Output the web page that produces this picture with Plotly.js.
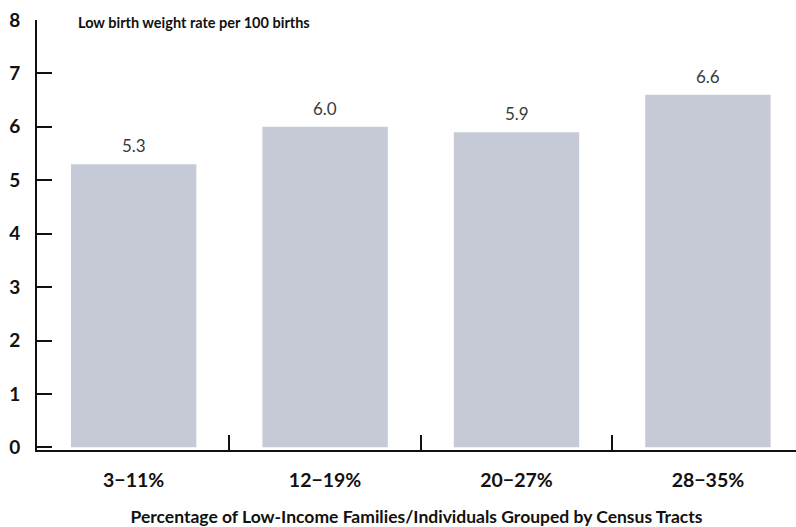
<!DOCTYPE html>
<html>
<head>
<meta charset="utf-8">
<script src="https://cdn.plot.ly/plotly-3.0.1.min.js"></script>
<style>html,body{margin:0;padding:0;background:#fff;}#chart{width:796px;height:527px;}</style>
</head>
<body>
<div id="chart"></div>
<script>
const categories = ["3\u221211%", "12\u221219%", "20\u221227%", "28\u221235%"];
const rates = [5.3, 6.0, 5.9, 6.6];
const rateLabels = ["5.3", "6.0", "5.9", "6.6"];
const yTicks = [0, 1, 2, 3, 4, 5, 6, 7, 8];

const FONT = "Lato, 'Open Sans', sans-serif";

const trace = {
  type: "bar",
  x: categories,
  y: rates,
  width: 0.655,
  marker: {color: "#c6c9d6", line: {width: 0}},
  hoverinfo: "x+y"
};

const annotations = categories.map((c, i) => ({
  x: c, y: rates[i], xref: "x", yref: "y",
  text: rateLabels[i], showarrow: false,
  yanchor: "bottom", yshift: 6,
  font: {family: FONT, size: 17, color: "#3a3a3a"}
}));
annotations.push({
  xref: "paper", yref: "paper", x: 0.051, y: 1, xanchor: "left", yanchor: "bottom",
  yshift: -13, text: "<b>Low birth weight rate per 100 births</b>", showarrow: false,
  font: {family: FONT, size: 14.5, color: "#111"}
});

const layout = {
  width: 796, height: 527,
  margin: {l: 37, r: 0, t: 20, b: 77},
  paper_bgcolor: "#fff", plot_bgcolor: "#fff",
  showlegend: false,
  bargap: 0.3,
  xaxis: {
    type: "category",
    range: [-0.505, 3.46],
    showline: true, linecolor: "#111", linewidth: 2,
    ticks: "inside", tickson: "boundaries", ticklen: 15, tickwidth: 2, tickcolor: "#111",
    ticklabelstandoff: 12,
    tickfont: {family: FONT, size: 19.5, color: "#111", weight: 700},
    showgrid: false, zeroline: false,
    title: {text: "<b>Percentage of Low-Income Families/Individuals Grouped by Census Tracts</b>",
            font: {family: FONT, size: 17.5, color: "#111"}, standoff: 21}
  },
  yaxis: {
    range: [-0.05, 8],
    tickvals: yTicks,
    showline: true, linecolor: "#111", linewidth: 2,
    ticks: "inside", ticklen: 15, tickwidth: 2, tickcolor: "#111",
    ticklabelstandoff: 11,
    tickfont: {family: FONT, size: 19, color: "#111", weight: 700},
    showgrid: false, zeroline: false
  },
  annotations: annotations
};

Plotly.newPlot("chart", [trace], layout, {displayModeBar: false, staticPlot: true});
</script>
</body>
</html>
